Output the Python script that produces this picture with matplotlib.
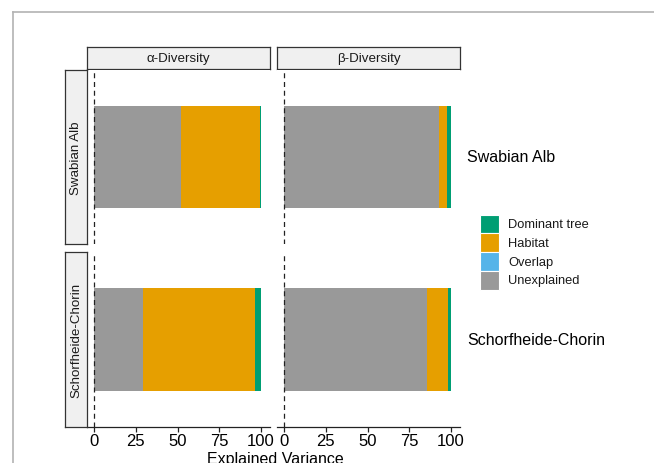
import matplotlib.pyplot as plt
from matplotlib.patches import Rectangle
from matplotlib.lines import Line2D

plt.rcParams['font.family'] = ['Liberation Sans', 'DejaVu Sans']

regions = ["Swabian Alb", "Schorfheide-Chorin"]
diversity = ["α-Diversity", "β-Diversity"]

# explained variance (%) per component, one list per diversity index
unexplained = {"α-Diversity": [52.0, 29.0], "β-Diversity": [93.0, 85.5]}
overlap = {"α-Diversity": [-0.3, -0.3], "β-Diversity": [-0.4, -0.4]}
habitat = {"α-Diversity": [47.3, 67.5], "β-Diversity": [4.7, 12.5]}
dominant_tree = {"α-Diversity": [0.7, 3.5], "β-Diversity": [2.3, 2.0]}

components = ["Dominant tree", "Habitat", "Overlap", "Unexplained"]
colors = {"Dominant tree": "#009E73", "Habitat": "#E69F00",
          "Overlap": "#56B4E9", "Unexplained": "#999999"}

W, H = 654, 464
fig = plt.figure(figsize=(W / 100, H / 100), dpi=100)


def box(x0, y0, x1, y1):
    # pixel box (top-left origin) -> figure fraction rect
    return [x0 / W, 1 - y1 / H, (x1 - x0) / W, (y1 - y0) / H]


# outer frame
fig.add_artist(Line2D([13 / W, 13 / W], [0, 1 - 13 / H], color="#b3b3b3", lw=1.2))
fig.add_artist(Line2D([13 / W, 1], [1 - 13 / H, 1 - 13 / H], color="#b3b3b3", lw=1.2))

cols = [(87, 270), (277, 460)]
rows = [(71, 245), (253, 428)]
strip_size = 9.6

for j, div in enumerate(diversity):
    cx0, cx1 = cols[j]
    # column strip
    sax = fig.add_axes(box(cx0, 48, cx1, 70))
    sax.set_facecolor("#f0f0f0")
    sax.set_xticks([])
    sax.set_yticks([])
    for s in sax.spines.values():
        s.set_color("#333333")
        s.set_linewidth(0.9)
    sax.text(0.5, 0.5, div, ha="center", va="center", fontsize=strip_size,
             color="#1a1a1a", transform=sax.transAxes)

    for i, reg in enumerate(regions):
        ry0, ry1 = rows[i]
        ax = fig.add_axes(box(cx0, ry0, cx1, ry1))
        ax.set_xlim(-4.3, 105.4)
        ax.set_ylim(0, 1)
        y = 0.5
        h = 0.59
        u = unexplained[div][i]
        o = overlap[div][i]
        hb = habitat[div][i]
        t = dominant_tree[div][i]
        ax.barh(y, o, left=0, height=h, color=colors["Overlap"], lw=0)
        ax.barh(y, u, left=0, height=h, color=colors["Unexplained"], lw=0)
        ax.barh(y, hb, left=u, height=h, color=colors["Habitat"], lw=0)
        ax.barh(y, t, left=u + hb, height=h, color=colors["Dominant tree"], lw=0)
        ax.axvline(0, color="#222222", lw=0.9, ls=(0, (4, 3)))
        for side in ["top", "right", "left"]:
            ax.spines[side].set_visible(False)
        ax.set_yticks([])
        if i == len(regions) - 1:
            ax.spines["bottom"].set_color("#222222")
            ax.spines["bottom"].set_linewidth(0.9)
            ax.set_xticks([0, 25, 50, 75, 100])
            ax.tick_params(axis="x", length=3.5, width=0.9, color="#222222",
                           labelsize=12, labelcolor="black", pad=1.0)
        else:
            ax.spines["bottom"].set_visible(False)
            ax.set_xticks([])

# row strips
for i, reg in enumerate(regions):
    ry0, ry1 = rows[i]
    sax = fig.add_axes(box(65, ry0, 87, ry1))
    sax.set_facecolor("#f0f0f0")
    sax.set_xticks([])
    sax.set_yticks([])
    for s in sax.spines.values():
        s.set_color("#333333")
        s.set_linewidth(0.9)
    sax.text(0.5, 0.5, reg, ha="center", va="center", rotation=90,
             fontsize=strip_size, color="#1a1a1a", transform=sax.transAxes)
    # region label on the right
    fig.text(467 / W, 1 - ((ry0 + ry1) / 2) / H, reg, ha="left", va="center",
             fontsize=11.5, color="black")

fig.text(275 / W, 1 - 464.5 / H, "Explained Variance", ha="center", va="baseline",
         fontsize=11.5, color="black")

# legend keys, stacked with thin white gaps
key_top, key_h = 215.7, 18.75
for k, comp in enumerate(components):
    ky = key_top + k * key_h
    fig.add_artist(Rectangle((480 / W, 1 - (ky + key_h) / H), 19 / W, key_h / H,
                             transform=fig.transFigure, facecolor=colors[comp],
                             edgecolor="white", lw=0.8))
    fig.text(508 / W, 1 - (ky + key_h / 2) / H, comp, ha="left", va="center",
             fontsize=9.3, color="#1a1a1a")

fig.savefig("out.png", dpi=100)
